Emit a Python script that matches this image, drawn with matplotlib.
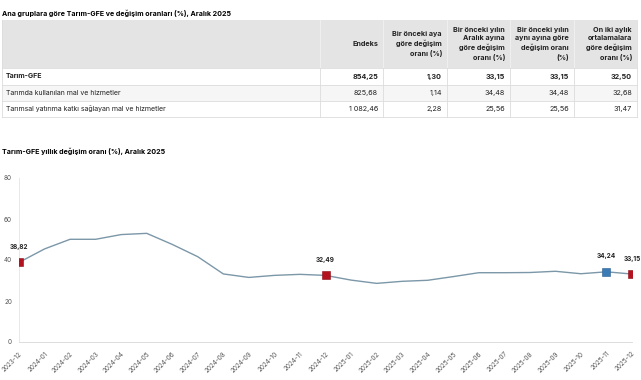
import matplotlib.pyplot as plt
import numpy as np

# table data
row_names = ['Tarım-GFE', 'Tarımda kullanılan mal ve hizmetler',
             'Tarımsal yatırıma katkı sağlayan mal ve hizmetler']
col_heads = ['Endeks', 'Bir önceki aya\ngöre değişim\noranı (%)',
             'Bir önceki yılın\nAralık ayına\ngöre değişim\noranı (%)',
             'Bir önceki yılın\naynı ayına göre\ndeğişim oranı\n(%)',
             'On iki aylık\nortalamalara\ngöre değişim\noranı (%)']
endeks = ['854,25', '825,68', '1 082,46']
aylik = ['1,30', '1,14', '2,28']
aralik = ['33,15', '34,48', '25,56']
yillik = ['33,15', '34,48', '25,56']
ort12 = ['32,50', '32,68', '31,47']

# line chart data
months = ['2023-12', '2024-01', '2024-02', '2024-03', '2024-04', '2024-05', '2024-06',
          '2024-07', '2024-08', '2024-09', '2024-10', '2024-11', '2024-12', '2025-01',
          '2025-02', '2025-03', '2025-04', '2025-05', '2025-06', '2025-07', '2025-08',
          '2025-09', '2025-10', '2025-11', '2025-12']
rate = [38.82, 45.4, 50.1, 50.1, 52.4, 53.0, 47.6, 41.6, 33.2, 31.5, 32.5, 33.0, 32.49,
        30.2, 28.6, 29.6, 30.1, 31.9, 33.8, 33.8, 33.9, 34.5, 33.3, 34.24, 33.15]
red_idx = [0, 12, 24]
blue_idx = [23]

W, H = 641, 380
fig = plt.figure(figsize=(W / 100, H / 100), dpi=100)
plt.rcParams['font.family'] = ['Inter', 'DejaVu Sans']


def fx(px):
    return px / W


def fy(py):
    return 1 - py / H


def rect(x0, y0, x1, y1, color):
    fig.patches.append(plt.Rectangle((fx(x0), fy(y1)), fx(x1) - fx(x0), fy(y0) - fy(y1),
                                     transform=fig.transFigure, facecolor=color,
                                     edgecolor='none', zorder=0))


def hline(y, x0, x1, color='#dcdcdc'):
    fig.add_artist(plt.Line2D([fx(x0), fx(x1)], [fy(y), fy(y)], color=color, lw=0.6,
                              transform=fig.transFigure))


def vline(x, y0, y1, color='#dcdcdc'):
    fig.add_artist(plt.Line2D([fx(x), fx(x)], [fy(y0), fy(y1)], color=color, lw=0.6,
                              transform=fig.transFigure))


fig.text(fx(2), fy(13), 'Ana gruplara göre Tarım-GFE ve değişim oranları (%), Aralık 2025',
         fontsize=5.1, fontweight='bold', va='center', ha='left')

# table
L, R = 2, 637
cols = [L, 320, 383, 447, 510, 574, R]
hdr_top, hdr_bot = 20, 68
rows = [68, 85, 101, 117]
rect(L, hdr_top, R, hdr_bot, '#e4e4e4')
rect(L, rows[1], R, rows[2], '#f6f6f6')
for x in cols[1:-1]:
    vline(x, hdr_top, hdr_bot, '#f2f2f2')
    vline(x, rows[0], rows[-1])
for y in rows:
    hline(y, L, R)
vline(L, hdr_top, rows[-1])
vline(R, hdr_top, rows[-1])

for j, h in enumerate(col_heads):
    fig.text(fx(cols[j + 2] - 5), fy((hdr_top + hdr_bot) / 2), h, fontsize=5.2,
             fontweight='bold', ha='right', va='center', linespacing=1.45, color='#222222')

values = [endeks, aylik, aralik, yillik, ort12]
for i in range(3):
    yc = (rows[i] + rows[i + 1]) / 2
    wt = 'bold' if i == 0 else 'normal'
    fig.text(fx(6), fy(yc), row_names[i], fontsize=5.0, fontweight=wt, ha='left',
             va='center', color='#222222')
    for j in range(5):
        fig.text(fx(cols[j + 2] - 5), fy(yc), values[j][i], fontsize=5.2, fontweight=wt,
                 ha='right', va='center', color='#222222')

# line chart
fig.text(fx(2), fy(151), 'Tarım-GFE yıllık değişim oranı (%), Aralık 2025',
         fontsize=5.1, fontweight='bold', va='center', ha='left')

ax = fig.add_axes([fx(19), fy(342), fx(632) - fx(19), fy(178) - fy(342)])
x = np.arange(len(months))
ax.plot(x, rate, color='#7b97a8', lw=1.0, zorder=2)
ax.scatter([x[i] for i in red_idx], [rate[i] for i in red_idx], marker='s', s=30,
           color='#b3121e', edgecolor='#8a0d16', linewidth=0.4, zorder=3)
ax.scatter([x[i] for i in blue_idx], [rate[i] for i in blue_idx], marker='s', s=30,
           color='#3b7bb5', edgecolor='#2a5e8c', linewidth=0.4, zorder=3)
for i in red_idx + blue_idx:
    ax.annotate(f'{rate[i]:.2f}'.replace('.', ','), (x[i], rate[i]), xytext=(0, 9),
                textcoords='offset points', ha='center', va='bottom', fontsize=4.6,
                fontweight='bold', color='#222222')

ax.set_xlim(0, len(months) - 1)
ax.set_ylim(0, 80)
ax.set_yticks([0, 20, 40, 60, 80])
ax.set_xticks(x)
ax.set_xticklabels(months, rotation=45, ha='right', rotation_mode='anchor')
ax.tick_params(axis='both', length=0, labelsize=4.6, colors='#555555', pad=6)
ax.tick_params(axis='y', pad=5)
for s in ['top', 'right']:
    ax.spines[s].set_visible(False)
ax.spines['left'].set_color('#e8e8e8')
ax.spines['bottom'].set_color('#dddddd')
ax.spines['left'].set_linewidth(0.7)
ax.spines['bottom'].set_linewidth(0.7)
ax.patch.set_alpha(0)

fig.savefig('out.png', dpi=100)
